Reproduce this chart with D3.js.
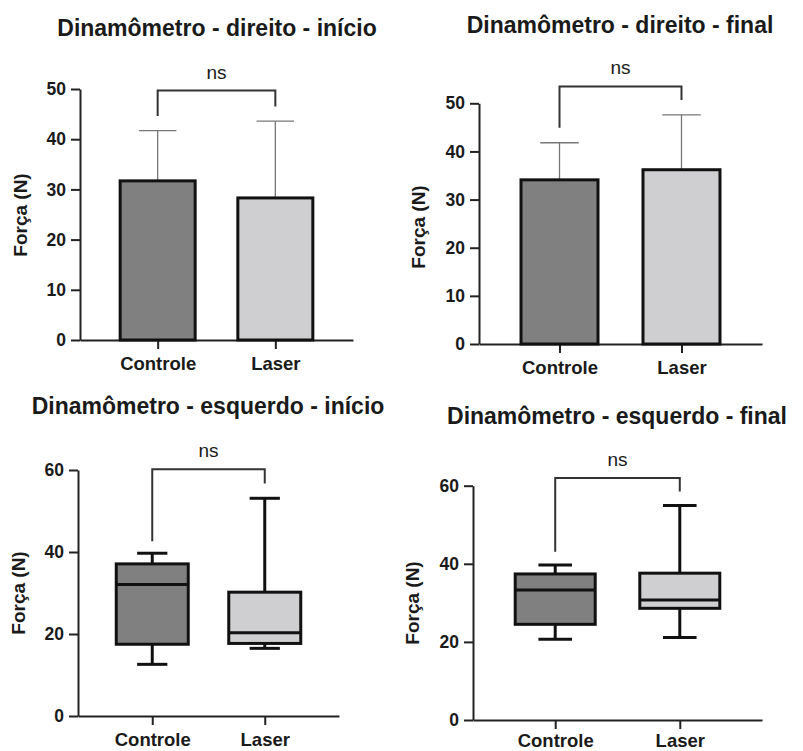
<!DOCTYPE html>
<html>
<head>
<meta charset="utf-8">
<script src="https://cdn.jsdelivr.net/npm/d3@7"></script>
<style>
	body { margin: 0; background: #fff; }
	svg text { font-family: "Liberation Sans", Arial, sans-serif; fill: #1a1a1a; }
</style>
</head>
<body>
<svg id="chart" width="803" height="751"></svg>
<script>
// data
var groups = ["Controle", "Laser"];
var titles = [
	"Dinamômetro - direito - início",
	"Dinamômetro - direito - final",
	"Dinamômetro - esquerdo - início",
	"Dinamômetro - esquerdo - final"
];
var y_label = "Força (N)";
var sig_label = "ns";

// bar panels: mean and upper SD
var dir_inicio_mean = [31.7, 28.3];
var dir_inicio_sd = [10.0, 15.3];
var dir_final_mean = [34.1, 36.2];
var dir_final_sd = [7.7, 11.4];

// box panels: [min, q1, median, q3, max]
var esq_inicio_box = [[12.6, 17.5, 32.1, 37.1, 39.7], [16.5, 17.7, 20.3, 30.2, 53.1]];
var esq_final_box = [[20.7, 24.5, 33.3, 37.4, 39.7], [21.1, 28.6, 30.7, 37.6, 54.9]];

// bracket: [top level, left leg end, right leg end]
var dir_inicio_bracket = [49.7, 44.6, 46.5];
var dir_final_bracket = [53.5, 44.9, 50.7];
var esq_inicio_bracket = [60.2, 42.6, 56.7];
var esq_final_bracket = [62.0, 43.1, 58.5];

var bar_ticks = [0, 10, 20, 30, 40, 50];
var box_ticks = [0, 20, 40, 60];

var fills = ["#808080", "#cfcfd1"];

var svg = d3.select("#chart");

function make_panel(p){
	var g = svg.append("g");
	var x = d3.scalePoint().domain(groups).range([p.left, p.right]).padding(0.66);
	var y = d3.scaleLinear().domain([0, p.y_max]).range([p.bottom, p.top]);

	g.append("text")
		.attr("x", p.title_x).attr("y", p.title_y)
		.attr("text-anchor", "middle")
		.style("font-size", "23px").style("font-weight", "bold")
		.text(p.title);

	var ya = g.append("g")
		.attr("transform", "translate(" + p.left + ",0)")
		.call(d3.axisLeft(y).tickValues(p.ticks).tickSize(9).tickSizeOuter(0).tickPadding(5));
	var xa = g.append("g")
		.attr("transform", "translate(0," + p.bottom + ")")
		.call(d3.axisBottom(x).tickSize(9).tickSizeOuter(0).tickPadding(p.x_pad || 6));
	[ya, xa].forEach(function(a){
		a.selectAll("path, line").attr("stroke", "#222").attr("stroke-width", 2);
		a.selectAll("text").style("font-weight", "bold").attr("fill", "#1a1a1a");
	});
	ya.selectAll("text").style("font-size", "17.5px");
	xa.selectAll("text").style("font-size", "18.5px").attr("dy", "0.8em");

	g.append("text")
		.attr("transform", "translate(" + p.label_x + "," + p.label_y + ") rotate(-90)")
		.attr("text-anchor", "middle").attr("dy", "0.35em")
		.style("font-size", "19px").style("font-weight", "bold")
		.text(y_label);

	var w = p.bar_w;
	if(p.means){
		// error bars first, bars drawn over them
		groups.forEach(function(grp, i){
			var cx = x(grp);
			g.append("line")
				.attr("x1", cx).attr("x2", cx)
				.attr("y1", y(p.means[i])).attr("y2", y(p.means[i] + p.sd[i]))
				.attr("stroke", "#777").attr("stroke-width", 1.3);
			g.append("line")
				.attr("x1", cx - w / 4).attr("x2", cx + w / 4)
				.attr("y1", y(p.means[i] + p.sd[i])).attr("y2", y(p.means[i] + p.sd[i]))
				.attr("stroke", "#777").attr("stroke-width", 1.3);
		});
		g.selectAll(".bar").data(p.means).enter().append("rect")
			.attr("x", function(d, i){ return x(groups[i]) - w / 2; })
			.attr("y", function(d){ return y(d); })
			.attr("width", w)
			.attr("height", function(d){ return p.bottom - y(d); })
			.attr("fill", function(d, i){ return fills[i]; })
			.attr("stroke", "#111").attr("stroke-width", 3);
	}
	else {
		p.boxes.forEach(function(b, i){
			var cx = x(groups[i]);
			var cap = w * 0.42;
			[[b[0], b[1]], [b[3], b[4]]].forEach(function(s){
				g.append("line")
					.attr("x1", cx).attr("x2", cx)
					.attr("y1", y(s[0])).attr("y2", y(s[1]))
					.attr("stroke", "#111").attr("stroke-width", 3);
			});
			[b[0], b[4]].forEach(function(v){
				g.append("line")
					.attr("x1", cx - cap / 2).attr("x2", cx + cap / 2)
					.attr("y1", y(v)).attr("y2", y(v))
					.attr("stroke", "#111").attr("stroke-width", 3);
			});
			g.append("rect")
				.attr("x", cx - w / 2).attr("y", y(b[3]))
				.attr("width", w).attr("height", y(b[1]) - y(b[3]))
				.attr("fill", fills[i])
				.attr("stroke", "#111").attr("stroke-width", 3);
			g.append("line")
				.attr("x1", cx - w / 2).attr("x2", cx + w / 2)
				.attr("y1", y(b[2])).attr("y2", y(b[2]))
				.attr("stroke", "#111").attr("stroke-width", 3);
		});
	}

	// significance bracket
	var br = p.bracket;
	var x1 = x(groups[0]), x2 = x(groups[1]);
	g.append("path")
		.attr("d", "M" + x1 + "," + y(br[1]) + "V" + y(br[0]) + "H" + x2 + "V" + y(br[2]))
		.attr("fill", "none").attr("stroke", "#333").attr("stroke-width", 2);
	g.append("text")
		.attr("x", (x1 + x2) / 2).attr("y", y(br[0]) - 12)
		.attr("text-anchor", "middle")
		.style("font-size", "19px").attr("fill", "#444")
		.text(sig_label);
}

make_panel({
	title: titles[0], title_x: 217, title_y: 36,
	left: 80, right: 353, bottom: 340, top: 89, y_max: 50, ticks: bar_ticks,
	label_x: 20, label_y: 215, bar_w: 75,
	means: dir_inicio_mean, sd: dir_inicio_sd, bracket: dir_inicio_bracket
});
make_panel({
	title: titles[1], title_x: 620, title_y: 33,
	left: 479, right: 762, bottom: 344, top: 103.3, y_max: 50, ticks: bar_ticks,
	label_x: 418, label_y: 227, bar_w: 77,
	means: dir_final_mean, sd: dir_final_sd, bracket: dir_final_bracket
});
make_panel({
	title: titles[2], title_x: 208, title_y: 414,
	left: 78, right: 339, bottom: 716, top: 470, y_max: 60, ticks: box_ticks,
	label_x: 18, label_y: 593, bar_w: 72,
	boxes: esq_inicio_box, bracket: esq_inicio_bracket
});
make_panel({
	title: titles[3], title_x: 617, title_y: 424,
	left: 473, right: 762, bottom: 720, top: 485.7, y_max: 60, ticks: box_ticks,
	label_x: 412, label_y: 603, bar_w: 80, x_pad: 3,
	boxes: esq_final_box, bracket: esq_final_bracket
});
</script>
</body>
</html>
